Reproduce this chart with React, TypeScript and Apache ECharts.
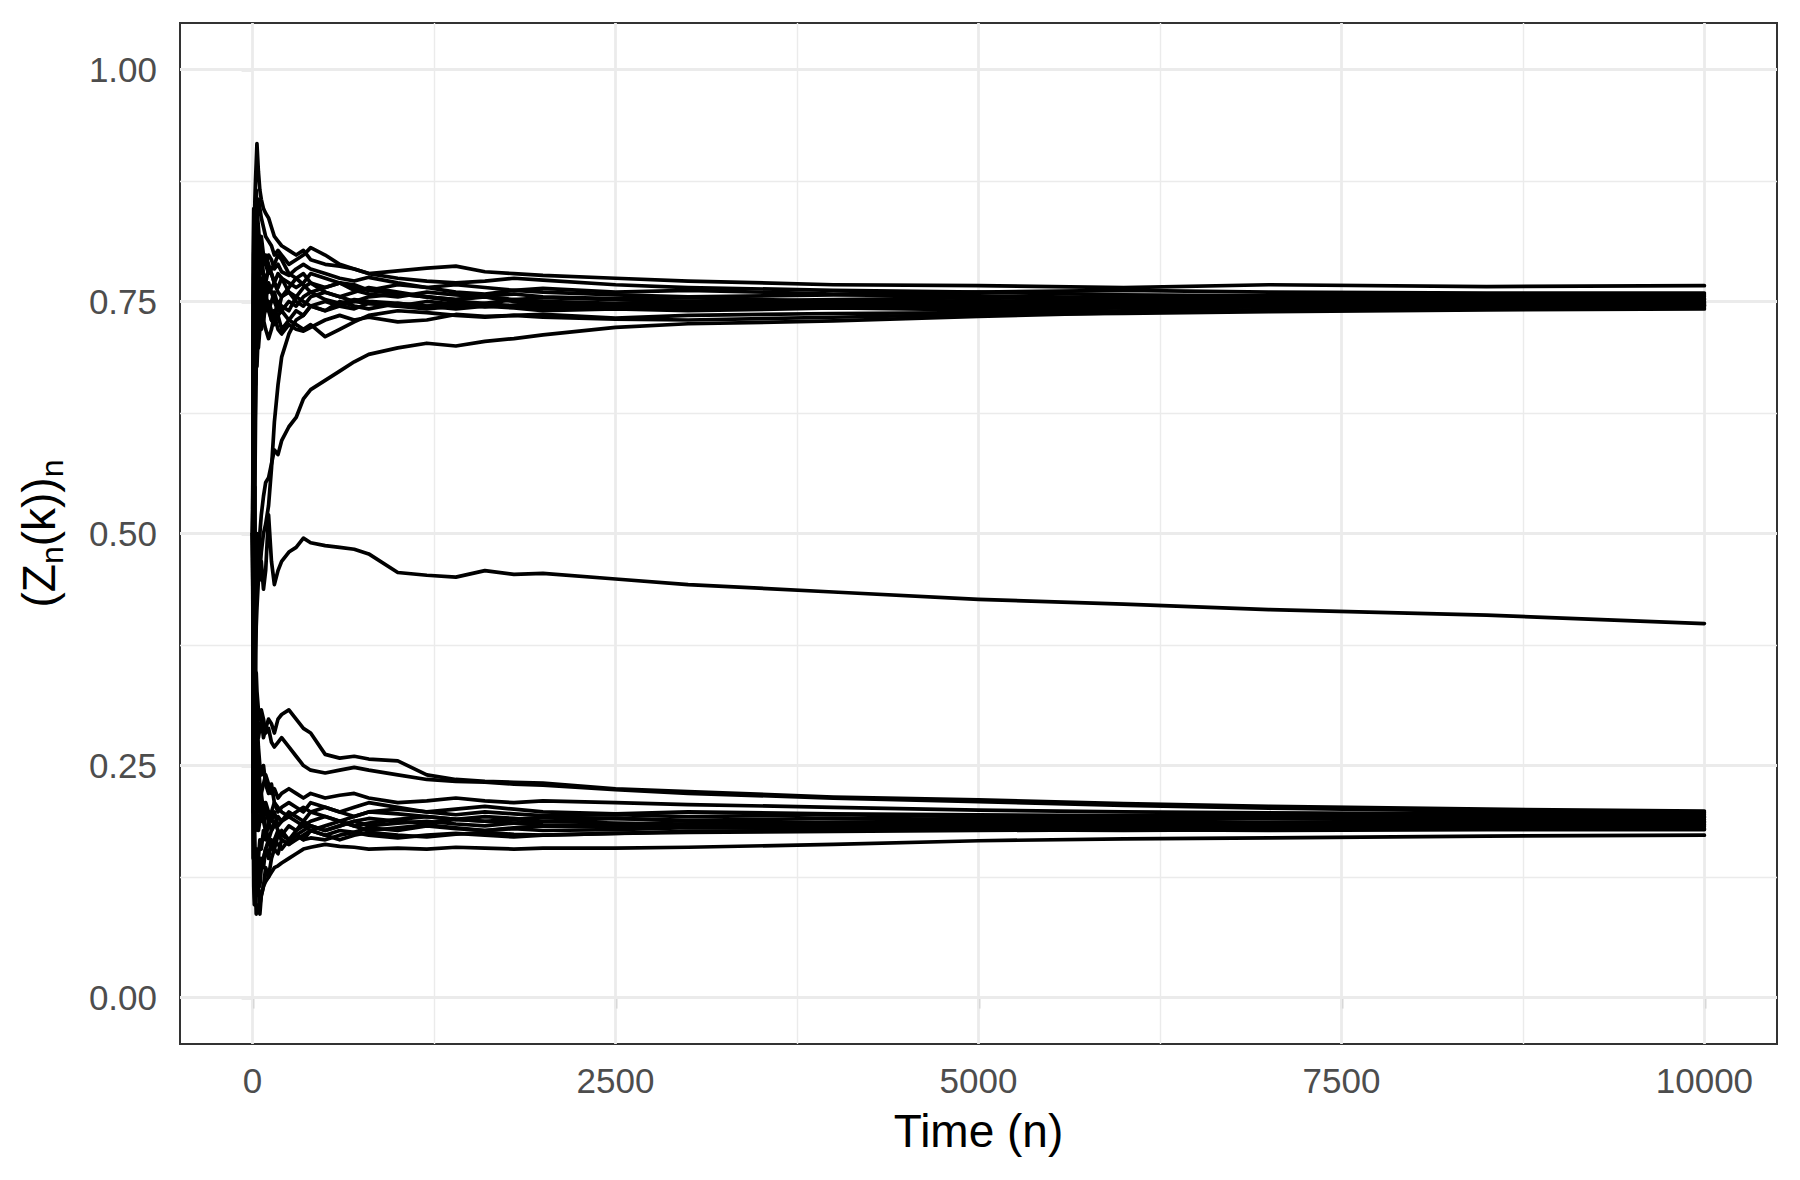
import React, { useEffect, useRef } from "react";
import * as echarts from "echarts";

// Time steps n at which every trajectory is sampled
const timeSteps = [1, 4, 8, 12, 16, 20, 25, 30, 40, 50, 60, 75, 90, 110, 130, 150, 175, 200, 250, 300, 350, 400, 500, 600, 700, 800, 1000, 1200, 1400, 1600, 1800, 2000, 2500, 3000, 4000, 5000, 6000, 7000, 8500, 10000];

// Upper cluster (converging near 0.75)
const pathT01 = [0.5, 0.75, 0.8, 0.83, 0.86, 0.88, 0.9, 0.92, 0.89, 0.87, 0.86, 0.85, 0.845, 0.84, 0.83, 0.82, 0.815, 0.81, 0.805, 0.8, 0.805, 0.795, 0.79, 0.788, 0.785, 0.78, 0.783, 0.786, 0.788, 0.782, 0.78, 0.778, 0.775, 0.772, 0.768, 0.767, 0.765, 0.768, 0.766, 0.767];
const pathT02 = [0.5, 0.6, 0.7, 0.78, 0.82, 0.85, 0.87, 0.84, 0.86, 0.85, 0.84, 0.83, 0.82, 0.815, 0.81, 0.8, 0.805, 0.8, 0.79, 0.795, 0.8, 0.808, 0.8, 0.79, 0.785, 0.78, 0.775, 0.772, 0.77, 0.772, 0.775, 0.773, 0.768, 0.765, 0.762, 0.76, 0.762, 0.76, 0.759, 0.759];
const pathT03 = [0.5, 0.4, 0.6, 0.7, 0.75, 0.8, 0.82, 0.85, 0.83, 0.81, 0.82, 0.8, 0.79, 0.8, 0.795, 0.785, 0.79, 0.782, 0.778, 0.785, 0.79, 0.785, 0.78, 0.775, 0.772, 0.776, 0.77, 0.765, 0.768, 0.765, 0.762, 0.764, 0.76, 0.762, 0.758, 0.76, 0.757, 0.756, 0.758, 0.757];
const pathT04 = [0.5, 0.7, 0.65, 0.72, 0.78, 0.75, 0.8, 0.78, 0.77, 0.79, 0.8, 0.78, 0.77, 0.785, 0.78, 0.77, 0.765, 0.775, 0.77, 0.765, 0.77, 0.78, 0.775, 0.77, 0.765, 0.762, 0.768, 0.765, 0.76, 0.758, 0.762, 0.76, 0.757, 0.755, 0.757, 0.756, 0.754, 0.756, 0.755, 0.755];
const pathT05 = [0.5, 0.3, 0.45, 0.6, 0.7, 0.78, 0.82, 0.8, 0.79, 0.77, 0.76, 0.78, 0.77, 0.76, 0.765, 0.77, 0.76, 0.755, 0.765, 0.775, 0.768, 0.76, 0.765, 0.77, 0.762, 0.758, 0.755, 0.76, 0.757, 0.755, 0.752, 0.754, 0.752, 0.75, 0.752, 0.754, 0.752, 0.753, 0.752, 0.753];
const pathT06 = [0.5, 0.6, 0.75, 0.8, 0.84, 0.8, 0.78, 0.76, 0.8, 0.82, 0.81, 0.79, 0.8, 0.79, 0.78, 0.77, 0.78, 0.775, 0.76, 0.755, 0.765, 0.77, 0.76, 0.755, 0.76, 0.765, 0.76, 0.755, 0.752, 0.756, 0.758, 0.755, 0.753, 0.754, 0.75, 0.749, 0.751, 0.75, 0.752, 0.752];
const pathT07 = [0.5, 0.5, 0.55, 0.65, 0.72, 0.7, 0.75, 0.74, 0.72, 0.75, 0.76, 0.74, 0.75, 0.77, 0.76, 0.75, 0.74, 0.755, 0.76, 0.75, 0.745, 0.755, 0.76, 0.755, 0.75, 0.755, 0.758, 0.755, 0.75, 0.748, 0.752, 0.75, 0.748, 0.75, 0.749, 0.751, 0.749, 0.75, 0.75, 0.75];
const pathT08 = [0.5, 0.25, 0.4, 0.5, 0.55, 0.62, 0.68, 0.72, 0.75, 0.74, 0.77, 0.76, 0.74, 0.75, 0.74, 0.735, 0.75, 0.745, 0.74, 0.755, 0.75, 0.745, 0.74, 0.745, 0.75, 0.748, 0.745, 0.75, 0.747, 0.744, 0.746, 0.748, 0.746, 0.748, 0.747, 0.748, 0.749, 0.748, 0.749, 0.749];
const pathT09 = [0.5, 0.8, 0.85, 0.82, 0.78, 0.82, 0.8, 0.79, 0.81, 0.79, 0.78, 0.8, 0.79, 0.78, 0.785, 0.79, 0.8, 0.795, 0.78, 0.775, 0.78, 0.77, 0.765, 0.77, 0.768, 0.762, 0.758, 0.755, 0.752, 0.755, 0.75, 0.748, 0.747, 0.745, 0.747, 0.746, 0.747, 0.748, 0.747, 0.748];
const pathT10 = [0.5, 0.45, 0.35, 0.5, 0.6, 0.66, 0.7, 0.68, 0.72, 0.74, 0.72, 0.73, 0.75, 0.745, 0.73, 0.74, 0.735, 0.72, 0.73, 0.74, 0.735, 0.745, 0.75, 0.745, 0.742, 0.748, 0.745, 0.742, 0.745, 0.748, 0.745, 0.743, 0.744, 0.742, 0.745, 0.744, 0.746, 0.745, 0.747, 0.747];
const pathT11 = [0.5, 0.7, 0.78, 0.75, 0.8, 0.76, 0.74, 0.78, 0.76, 0.73, 0.75, 0.77, 0.76, 0.74, 0.75, 0.76, 0.745, 0.74, 0.75, 0.745, 0.755, 0.76, 0.752, 0.748, 0.752, 0.75, 0.748, 0.745, 0.742, 0.745, 0.743, 0.74, 0.742, 0.74, 0.743, 0.741, 0.743, 0.744, 0.744, 0.745];
const pathT12 = [0.5, 0.65, 0.72, 0.7, 0.74, 0.78, 0.76, 0.74, 0.76, 0.75, 0.74, 0.73, 0.745, 0.74, 0.73, 0.725, 0.735, 0.74, 0.73, 0.725, 0.72, 0.725, 0.712, 0.72, 0.728, 0.735, 0.74, 0.738, 0.735, 0.733, 0.735, 0.736, 0.732, 0.735, 0.737, 0.738, 0.74, 0.741, 0.743, 0.744];
const pathT13 = [0.5, 0.35, 0.55, 0.62, 0.68, 0.66, 0.7, 0.72, 0.7, 0.72, 0.74, 0.73, 0.72, 0.71, 0.72, 0.735, 0.72, 0.715, 0.725, 0.72, 0.718, 0.722, 0.73, 0.735, 0.73, 0.733, 0.728, 0.73, 0.736, 0.734, 0.735, 0.733, 0.731, 0.73, 0.733, 0.736, 0.737, 0.739, 0.741, 0.742];
const pathT14 = [0.5, 0.3, 0.2, 0.25, 0.3, 0.35, 0.4, 0.42, 0.45, 0.5, 0.52, 0.54, 0.555, 0.56, 0.575, 0.59, 0.585, 0.6, 0.615, 0.625, 0.645, 0.655, 0.665, 0.675, 0.685, 0.693, 0.7, 0.705, 0.702, 0.707, 0.71, 0.714, 0.722, 0.726, 0.729, 0.734, 0.738, 0.741, 0.744, 0.746];
const pathT15 = [0.5, 0.2, 0.3, 0.38, 0.35, 0.4, 0.42, 0.45, 0.48, 0.46, 0.48, 0.5, 0.51, 0.53, 0.57, 0.62, 0.66, 0.69, 0.715, 0.73, 0.735, 0.745, 0.74, 0.75, 0.745, 0.742, 0.748, 0.745, 0.748, 0.746, 0.744, 0.746, 0.745, 0.744, 0.746, 0.745, 0.746, 0.745, 0.746, 0.746];

// Single trajectory drifting slowly between the two clusters
const pathMid = [0.5, 0.6, 0.45, 0.5, 0.55, 0.4, 0.45, 0.5, 0.48, 0.45, 0.47, 0.44, 0.46, 0.52, 0.47, 0.445, 0.46, 0.47, 0.48, 0.485, 0.495, 0.49, 0.487, 0.485, 0.483, 0.478, 0.458, 0.455, 0.453, 0.46, 0.456, 0.457, 0.451, 0.445, 0.437, 0.429, 0.424, 0.418, 0.412, 0.403];

// Lower cluster (converging near 0.19)
const pathB01 = [0.5, 0.3, 0.4, 0.35, 0.3, 0.35, 0.32, 0.3, 0.28, 0.29, 0.3, 0.28, 0.29, 0.3, 0.295, 0.285, 0.3, 0.305, 0.31, 0.3, 0.29, 0.285, 0.262, 0.258, 0.26, 0.257, 0.255, 0.24, 0.235, 0.233, 0.232, 0.231, 0.225, 0.222, 0.216, 0.213, 0.209, 0.206, 0.203, 0.201];
const pathB02 = [0.5, 0.4, 0.25, 0.2, 0.25, 0.3, 0.35, 0.33, 0.31, 0.3, 0.31, 0.3, 0.285, 0.29, 0.275, 0.27, 0.275, 0.28, 0.27, 0.26, 0.25, 0.245, 0.242, 0.245, 0.248, 0.245, 0.24, 0.235, 0.233, 0.232, 0.23, 0.229, 0.224, 0.22, 0.215, 0.211, 0.207, 0.204, 0.201, 0.199];
const pathB03 = [0.5, 0.2, 0.3, 0.25, 0.28, 0.22, 0.25, 0.24, 0.22, 0.2, 0.22, 0.23, 0.24, 0.23, 0.22, 0.225, 0.215, 0.22, 0.225, 0.22, 0.215, 0.22, 0.215, 0.218, 0.22, 0.215, 0.21, 0.212, 0.215, 0.212, 0.21, 0.212, 0.21, 0.208, 0.205, 0.202, 0.2, 0.199, 0.198, 0.197];
const pathB04 = [0.5, 0.7, 0.5, 0.4, 0.35, 0.3, 0.28, 0.3, 0.27, 0.25, 0.24, 0.25, 0.23, 0.22, 0.23, 0.21, 0.2, 0.205, 0.21, 0.205, 0.2, 0.21, 0.205, 0.2, 0.205, 0.21, 0.205, 0.2, 0.203, 0.206, 0.203, 0.2, 0.198, 0.2, 0.198, 0.197, 0.196, 0.197, 0.195, 0.195];
const pathB05 = [0.5, 0.25, 0.15, 0.2, 0.15, 0.12, 0.14, 0.16, 0.15, 0.17, 0.16, 0.18, 0.17, 0.19, 0.18, 0.185, 0.195, 0.19, 0.2, 0.195, 0.19, 0.2, 0.205, 0.2, 0.195, 0.2, 0.203, 0.2, 0.197, 0.2, 0.198, 0.196, 0.197, 0.195, 0.197, 0.195, 0.194, 0.195, 0.194, 0.194];
const pathB06 = [0.5, 0.6, 0.45, 0.35, 0.3, 0.25, 0.22, 0.2, 0.18, 0.19, 0.2, 0.21, 0.2, 0.19, 0.2, 0.21, 0.205, 0.2, 0.195, 0.2, 0.205, 0.2, 0.195, 0.19, 0.195, 0.2, 0.198, 0.195, 0.192, 0.195, 0.193, 0.19, 0.193, 0.191, 0.193, 0.192, 0.191, 0.193, 0.192, 0.192];
const pathB07 = [0.5, 0.3, 0.2, 0.15, 0.12, 0.1, 0.12, 0.11, 0.13, 0.12, 0.14, 0.15, 0.16, 0.15, 0.17, 0.16, 0.175, 0.18, 0.17, 0.175, 0.18, 0.185, 0.18, 0.185, 0.19, 0.185, 0.188, 0.19, 0.187, 0.185, 0.188, 0.19, 0.188, 0.187, 0.189, 0.19, 0.188, 0.189, 0.19, 0.19];
const pathB08 = [0.5, 0.45, 0.3, 0.25, 0.2, 0.18, 0.2, 0.22, 0.21, 0.23, 0.22, 0.2, 0.21, 0.2, 0.19, 0.2, 0.185, 0.19, 0.195, 0.19, 0.185, 0.19, 0.195, 0.19, 0.185, 0.188, 0.192, 0.195, 0.192, 0.19, 0.192, 0.194, 0.193, 0.19, 0.188, 0.189, 0.19, 0.188, 0.189, 0.189];
const pathB09 = [0.5, 0.35, 0.25, 0.15, 0.1, 0.12, 0.09, 0.1, 0.095, 0.09, 0.11, 0.12, 0.14, 0.13, 0.15, 0.16, 0.155, 0.17, 0.165, 0.175, 0.17, 0.18, 0.175, 0.18, 0.178, 0.183, 0.18, 0.185, 0.182, 0.18, 0.183, 0.185, 0.184, 0.186, 0.185, 0.186, 0.187, 0.186, 0.187, 0.187];
const pathB10 = [0.5, 0.55, 0.35, 0.3, 0.25, 0.28, 0.24, 0.22, 0.2, 0.22, 0.19, 0.2, 0.18, 0.17, 0.18, 0.19, 0.18, 0.175, 0.185, 0.18, 0.19, 0.185, 0.18, 0.185, 0.19, 0.193, 0.19, 0.188, 0.192, 0.19, 0.188, 0.186, 0.185, 0.187, 0.186, 0.185, 0.186, 0.185, 0.186, 0.186];
const pathB11 = [0.5, 0.15, 0.2, 0.18, 0.14, 0.16, 0.13, 0.12, 0.14, 0.13, 0.15, 0.14, 0.16, 0.17, 0.16, 0.17, 0.18, 0.175, 0.17, 0.18, 0.185, 0.18, 0.185, 0.19, 0.185, 0.18, 0.183, 0.186, 0.183, 0.18, 0.182, 0.18, 0.181, 0.183, 0.182, 0.183, 0.184, 0.183, 0.184, 0.184];
const pathB12 = [0.5, 0.4, 0.5, 0.45, 0.4, 0.35, 0.32, 0.28, 0.25, 0.23, 0.21, 0.19, 0.18, 0.17, 0.165, 0.17, 0.175, 0.17, 0.165, 0.17, 0.175, 0.18, 0.175, 0.17, 0.175, 0.178, 0.175, 0.173, 0.176, 0.178, 0.176, 0.175, 0.177, 0.179, 0.18, 0.181, 0.18, 0.181, 0.182, 0.182];
const pathB13 = [0.5, 0.2, 0.12, 0.1, 0.11, 0.13, 0.12, 0.14, 0.13, 0.15, 0.14, 0.15, 0.16, 0.155, 0.165, 0.17, 0.165, 0.16, 0.17, 0.175, 0.17, 0.172, 0.17, 0.175, 0.178, 0.175, 0.172, 0.175, 0.177, 0.175, 0.173, 0.175, 0.177, 0.178, 0.179, 0.18, 0.181, 0.18, 0.181, 0.181];
const pathB14 = [0.5, 0.3, 0.2, 0.12, 0.1, 0.12, 0.11, 0.13, 0.12, 0.1, 0.11, 0.12, 0.125, 0.13, 0.135, 0.14, 0.142, 0.145, 0.15, 0.155, 0.16, 0.162, 0.165, 0.163, 0.162, 0.16, 0.161, 0.16, 0.162, 0.161, 0.16, 0.161, 0.161, 0.162, 0.165, 0.169, 0.171, 0.172, 0.174, 0.175];

const allPaths = [
  pathT01, pathT02, pathT03, pathT04, pathT05, pathT06, pathT07, pathT08,
  pathT09, pathT10, pathT11, pathT12, pathT13, pathT14, pathT15,
  pathMid,
  pathB01, pathB02, pathB03, pathB04, pathB05, pathB06, pathB07,
  pathB08, pathB09, pathB10, pathB11, pathB12, pathB13, pathB14,
];

// Axis ticks / grid lines
const xMajorTicks = [0, 2500, 5000, 7500, 10000];
const xMinorTicks = [1250, 3750, 6250, 8750];
const yMajorTicks = [0, 0.25, 0.5, 0.75, 1];
const yMinorTicks = [0.125, 0.375, 0.625, 0.875];

const FONT = "'Liberation Sans', Arial, Helvetica, sans-serif";

export default function App() {
  const ref = useRef<HTMLDivElement>(null);

  useEffect(() => {
    if (!ref.current) return;
    const chart = echarts.init(ref.current, undefined, { renderer: "svg" });

    const gridColor = "#EBEBEB";
    const gridSeries = {
      type: "line",
      data: [],
      silent: true,
      z: 1,
      markLine: {
        silent: true,
        symbol: ["none", "none"],
        z: 1,
        animation: false,
        label: { show: false },
        lineStyle: { color: gridColor, type: "solid" },
        emphasis: { disabled: true },
        data: [
          ...xMinorTicks.map((v) => ({ xAxis: v, lineStyle: { width: 1.4, color: gridColor, type: "solid" } })),
          ...yMinorTicks.map((v) => ({ yAxis: v, lineStyle: { width: 1.4, color: gridColor, type: "solid" } })),
          ...xMajorTicks.map((v) => ({ xAxis: v, lineStyle: { width: 2.8, color: gridColor, type: "solid" } })),
          ...yMajorTicks.map((v) => ({ yAxis: v, lineStyle: { width: 2.8, color: gridColor, type: "solid" } })),
        ],
      },
    };

    const pathSeries = allPaths.map((p, k) => ({
      type: "line",
      name: "path" + k,
      data: timeSteps.map((t, i) => [t, p[i]]),
      showSymbol: false,
      symbol: "none",
      silent: true,
      z: 3,
      lineStyle: { color: "#000000", width: 3.7, join: "round", cap: "round" },
    }));

    chart.setOption({
      animation: false,
      backgroundColor: "#FFFFFF",
      grid: {
        left: 180,
        right: 23,
        top: 23,
        bottom: 136,
        show: true,
        borderColor: "#333333",
        borderWidth: 2,
        backgroundColor: "#FFFFFF",
      },
      xAxis: {
        type: "value",
        min: -500,
        max: 10500,
        name: "Time (n)",
        nameLocation: "middle",
        nameGap: 64,
        nameTextStyle: { fontSize: 46, color: "#000000", fontFamily: FONT },
        axisLine: { show: false },
        splitLine: { show: false },
        axisTick: {
          show: true,
          customValues: xMajorTicks,
          length: 11,
          lineStyle: { color: "#333333", width: 2.2 },
        },
        axisLabel: {
          customValues: xMajorTicks,
          margin: 19,
          fontSize: 35,
          color: "#4D4D4D",
          fontFamily: FONT,
          formatter: (v: number) => String(Math.round(v)),
        },
      },
      yAxis: {
        type: "value",
        min: -0.05,
        max: 1.05,
        name: "(Z{sub|n}(k)){sub|n}",
        nameLocation: "middle",
        nameRotate: 90,
        nameGap: 112,
        nameTextStyle: {
          fontSize: 46,
          color: "#000000",
          fontFamily: FONT,
          rich: {
            sub: { fontSize: 32, fontFamily: FONT, color: "#000000", padding: [26, 0, 0, 0] },
          },
        },
        axisLine: { show: false },
        splitLine: { show: false },
        axisTick: {
          show: true,
          customValues: yMajorTicks,
          length: 11,
          lineStyle: { color: "#333333", width: 2.2 },
        },
        axisLabel: {
          customValues: yMajorTicks,
          margin: 23,
          fontSize: 35,
          color: "#4D4D4D",
          fontFamily: FONT,
          formatter: (v: number) => v.toFixed(2),
        },
      },
      series: [gridSeries, ...pathSeries],
    });

    return () => chart.dispose();
  }, []);

  return (
    <div
      ref={ref}
      style={{ position: "absolute", left: 0, top: 0, width: 1800, height: 1180, background: "#fff" }}
    />
  );
}
